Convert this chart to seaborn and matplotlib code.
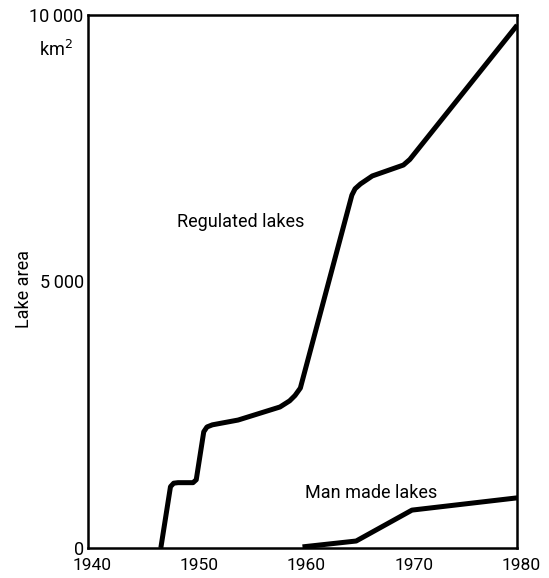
import matplotlib
matplotlib.use("Agg")
import matplotlib.pyplot as plt
import matplotlib.transforms as mtransforms
import seaborn as sns
import pandas as pd

# Data
reg_years = [1946.8, 1947.7, 1948.0, 1948.4, 1949.8, 1950.1, 1950.8, 1951.1, 1951.6,
             1954.0, 1957.9, 1958.8, 1959.3, 1959.8, 1964.6, 1964.9, 1965.4, 1966.5,
             1969.4, 1970.0, 1980.0]
reg_area = [0, 1150, 1215, 1225, 1225, 1280, 2180, 2270, 2310,
            2400, 2645, 2760, 2860, 3000, 6620, 6740, 6830, 6980,
            7185, 7290, 9810]
man_years = [1960.0, 1965.0, 1970.2, 1980.0]
man_area = [20, 130, 710, 940]
x_ticks = [1940, 1950, 1960, 1970, 1980]
y_ticks = [0, 5000, 10000]
y_tick_labels = ["0", "5\u2009000", "10\u2009000"]

sns.set_style("white")
plt.rcParams['font.family'] = ['Roboto', 'DejaVu Sans']
plt.rcParams['text.color'] = 'black'
plt.rcParams['xtick.color'] = 'black'
plt.rcParams['ytick.color'] = 'black'
plt.rcParams['axes.labelcolor'] = 'black'

df = pd.concat([
    pd.DataFrame({"year": reg_years, "area": reg_area, "type": "Regulated lakes"}),
    pd.DataFrame({"year": man_years, "area": man_area, "type": "Man made lakes"}),
])

fig = plt.figure(figsize=(5.49, 5.78), dpi=100)
ax = fig.add_axes([0.160, 0.052, 0.782, 0.922])

sns.lineplot(data=df, x="year", y="area", units="type", estimator=None,
             color="black", linewidth=3.6, ax=ax, legend=False, sort=False)
for ln in ax.lines:
    ln.set_solid_joinstyle("round")
    ln.set_solid_capstyle("butt")

ax.set_xlim(1940, 1980)
ax.set_ylim(0, 10000)
ax.set_xticks(x_ticks)
ax.set_xticklabels([str(t) for t in x_ticks], fontsize=12.5)
ax.set_yticks(y_ticks)
ax.set_yticklabels(y_tick_labels, fontsize=13)
ax.tick_params(axis="both", direction="in", length=13, width=1.0, color="black")
ax.tick_params(axis="x", pad=7)
ax.tick_params(axis="y", pad=3)
offset = mtransforms.ScaledTranslation(4 / 100, 0, fig.dpi_scale_trans)
for lab in ax.get_xticklabels():
    lab.set_transform(lab.get_transform() + offset)
for s in ax.spines.values():
    s.set_visible(True)
    s.set_color("black")
    s.set_linewidth(1.8)

ax.set_xlabel("")
ax.set_ylabel("Lake area", fontsize=13)
ax.yaxis.set_label_coords(-0.128, 0.485)

ax.text(1948.3, 6120, "Regulated lakes", fontsize=13, va="center", ha="left")
ax.text(1960.2, 1030, "Man made lakes", fontsize=13, va="center", ha="left")
ax.text(-0.035, 0.935, "km$^2$", transform=ax.transAxes, fontsize=13, ha="right", va="center")

fig.savefig("out.png", dpi=100)
